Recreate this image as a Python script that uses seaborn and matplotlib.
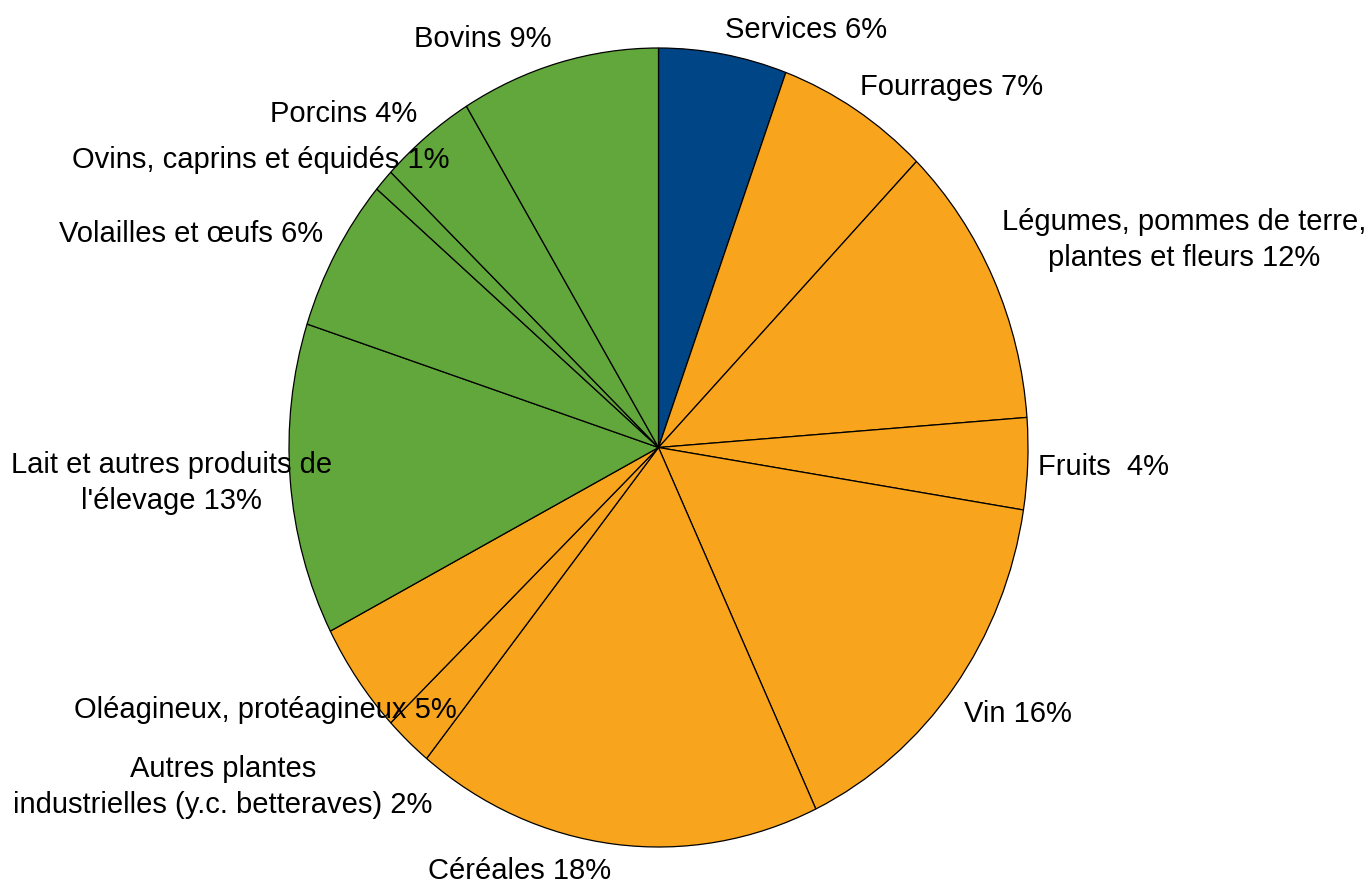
import matplotlib
matplotlib.use("Agg")
import matplotlib.pyplot as plt
import seaborn as sns

# Share of each production in agricultural output (%)
categories = [
    "Services", "Fourrages", "Légumes, pommes de terre,\nplantes et fleurs",
    "Fruits ", "Vin", "Céréales", "Autres plantes\nindustrielles (y.c. betteraves)",
    "Oléagineux, protéagineux", "Lait et autres produits de\nl'élevage",
    "Volailles et œufs", "Ovins, caprins et équidés", "Porcins", "Bovins",
]
values = [5.6, 6.7, 11.5, 3.7, 15.5, 17.8, 2.1, 4.5, 12.6, 6.2, 0.9, 4.2, 8.7]
groups = ["services", "vegetal", "vegetal", "vegetal", "vegetal", "vegetal", "vegetal",
          "vegetal", "animal", "animal", "animal", "animal", "animal"]

group_colors = {"services": "#004586", "vegetal": "#F8A51D", "animal": "#62A73B"}

# Label anchor points, in the pie's own data space (radius 1)
label_pos = [
    (0.399, 1.045), (0.794, 0.902), (1.422, 0.519), (1.203, -0.049),
    (0.973, -0.667), (-0.375, -1.060), (-1.179, -0.850), (-1.065, -0.657),
    (-1.317, -0.089), (-1.265, 0.534), (-1.076, 0.720), (-0.851, 0.835),
    (-0.475, 1.023),
]

sns.set_theme(style="white")
plt.rcParams["font.family"] = ["Liberation Sans", "DejaVu Sans"]

W, H = 1371, 886
fig = plt.figure(figsize=(W / 100, H / 100), dpi=100)
fig.patch.set_facecolor("white")
# Pie area: slightly taller than wide
ax = fig.add_axes([289 / W, (H - 847) / H, 739 / W, 799 / H])

palette = sns.color_palette([group_colors[g] for g in groups])
ax.pie(values, colors=palette, startangle=90, counterclock=False, radius=1,
       wedgeprops=dict(edgecolor="black", linewidth=0.9))
ax.set_aspect("auto")
ax.set_xlim(-1, 1)
ax.set_ylim(-1, 1)
ax.axis("off")

for name, v, (x, y) in zip(categories, values, label_pos):
    ax.text(x, y, f"{name} {int(v + 0.5)}%", ha="center", va="center",
            fontsize=21, color="black", linespacing=1.35, clip_on=False,
            multialignment="center")

fig.savefig("out.png", dpi=100, facecolor="white")
